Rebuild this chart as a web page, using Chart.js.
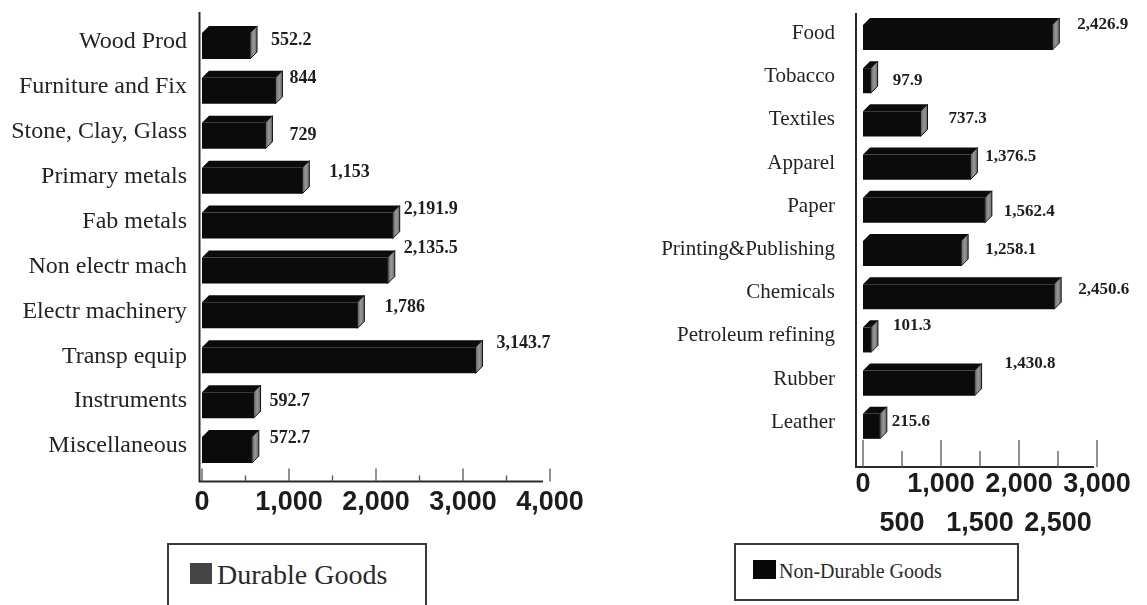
<!DOCTYPE html>
<html>
<head>
<meta charset="utf-8">
<script src="https://cdn.jsdelivr.net/npm/chart.js@4.4.1/dist/chart.umd.min.js"></script>
<style>
  html, body { margin: 0; padding: 0; background: #fff; }
  body { width: 1147px; height: 605px; position: relative; overflow: hidden; }
  canvas { position: absolute; top: 0; }
  #durableChart { left: 0; }
  #nonDurableChart { left: 620px; }
  .legend {
    position: absolute; box-sizing: border-box; border: 2px solid #3a3a3a;
    font-family: 'Liberation Serif', 'Times New Roman', serif; color: #2a2a2a;
  }
  .legend .swatch { position: absolute; }
  .legend .text { position: absolute; white-space: nowrap; }
  #durableLegend { left: 167px; top: 543px; width: 260px; height: 90px; font-size: 28px; line-height: 28px; }
  #durableLegend .swatch { left: 21px; top: 18px; width: 22px; height: 21px; background: #454545; }
  #durableLegend .text { left: 48px; top: 16px; }
  #nonDurableLegend { left: 734px; top: 543px; width: 285px; height: 58px; font-size: 20px; line-height: 20px; }
  #nonDurableLegend .swatch { left: 17px; top: 15px; width: 23px; height: 19px; background: #080808; }
  #nonDurableLegend .text { left: 43px; top: 16px; }
</style>
</head>
<body>
<canvas id="durableChart" width="600" height="540"></canvas>
<canvas id="nonDurableChart" width="527" height="540"></canvas>
<div class="legend" id="durableLegend"><span class="swatch"></span><span class="text"></span></div>
<div class="legend" id="nonDurableLegend"><span class="swatch"></span><span class="text"></span></div>

<script>
// ---- Durable goods ----
const durableCategories = [
  'Wood Prod', 'Furniture and Fix', 'Stone, Clay, Glass', 'Primary metals', 'Fab metals',
  'Non electr mach', 'Electr machinery', 'Transp equip', 'Instruments', 'Miscellaneous'
];
const durableValues = [552.2, 844, 729, 1153, 2191.9, 2135.5, 1786, 3143.7, 592.7, 572.7];
const durableTickLabels = ['0', '1,000', '2,000', '3,000', '4,000'];

// ---- Non-durable goods ----
const nonDurableCategories = [
  'Food', 'Tobacco', 'Textiles', 'Apparel', 'Paper',
  'Printing&Publishing', 'Chemicals', 'Petroleum refining', 'Rubber', 'Leather'
];
const nonDurableValues = [2426.9, 97.9, 737.3, 1376.5, 1562.4, 1258.1, 2450.6, 101.3, 1430.8, 215.6];
const nonDurableTickLabelsUpper = ['0', '1,000', '2,000', '3,000'];   // whole thousands
const nonDurableTickLabelsLower = ['500', '1,500', '2,500'];          // half thousands, second row

// Small per-bar nudges [dx, dy] for the value labels, in pixels
const durableLabelNudge = [[14, -2], [7, -9], [17, 3], [20, -5], [4, -13], [9, -19], [20, -5], [14, -13], [9, 0], [11, -8]];
const nonDurableLabelNudge = [[18, -9], [15, 3], [21, -2], [8, -7], [12, 5], [17, 0], [17, -4], [15, -11], [23, -16], [5, -1]];

const SERIF = "'Liberation Serif', 'Times New Roman', serif";
const SANS = "'Liberation Sans', Arial, sans-serif";
const DEPTH = 7;

const fmtValue = v => v.toLocaleString('en-US', { maximumFractionDigits: 1 });

// Extrudes each horizontal bar into a box: black top face, grey end face
const bars3d = {
  id: 'bars3d',
  afterDatasetsDraw(chart, args, o) {
    const ctx = chart.ctx;
    const d = o.depth;
    chart.getDatasetMeta(0).data.forEach(el => {
      const { x, y, base, height } = el.getProps(['x', 'y', 'base', 'height'], true);
      const top = y - height / 2, bottom = y + height / 2;
      ctx.save();
      // top face
      ctx.fillStyle = o.topColor;
      ctx.beginPath();
      ctx.moveTo(base, top);
      ctx.lineTo(base + d, top - d);
      ctx.lineTo(x + d, top - d);
      ctx.lineTo(x, top);
      ctx.closePath();
      ctx.fill();
      // end face
      const g = ctx.createLinearGradient(x, 0, x + d, 0);
      g.addColorStop(0, '#5e5e5e');
      g.addColorStop(0.5, '#9a9a9a');
      g.addColorStop(1, '#6a6a6a');
      ctx.fillStyle = g;
      ctx.beginPath();
      ctx.moveTo(x, top);
      ctx.lineTo(x + d, top - d);
      ctx.lineTo(x + d, bottom - d);
      ctx.lineTo(x, bottom);
      ctx.closePath();
      ctx.fill();
      ctx.strokeStyle = '#111';
      ctx.lineWidth = 1;
      ctx.stroke();
      ctx.restore();
    });
  }
};

// Value printed beside every bar
const valueLabels = {
  id: 'valueLabels',
  afterDatasetsDraw(chart, args, o) {
    const ctx = chart.ctx;
    const data = chart.data.datasets[0].data;
    ctx.save();
    ctx.font = o.font;
    ctx.fillStyle = o.color;
    ctx.textAlign = 'left';
    ctx.textBaseline = 'middle';
    chart.getDatasetMeta(0).data.forEach((el, i) => {
      const n = o.nudge[i] || [12, 0];
      ctx.fillText(fmtValue(data[i]), el.x + o.depth + n[0], el.y - o.depth / 2 + n[1]);
    });
    ctx.restore();
  }
};

// Axis lines set slightly apart from the plot, with ticks pointing up into it
const axisFrame = {
  id: 'axisFrame',
  beforeDatasetsDraw(chart, args, o) {
    const { ctx, chartArea: a } = chart;
    const xs = chart.scales.x;
    const ax = a.left - o.gapX;
    const ay = a.bottom + o.gapY;
    ctx.save();
    ctx.strokeStyle = o.color;
    ctx.lineWidth = 2;
    ctx.beginPath();
    ctx.moveTo(ax, a.top - o.rise);
    ctx.lineTo(ax, ay);
    ctx.lineTo(a.right - o.trim, ay);
    ctx.stroke();
    ctx.lineWidth = 1.3;
    ctx.strokeStyle = '#555';
    xs.ticks.forEach(t => {
      const px = xs.getPixelForValue(t.value);
      const len = t.value % 1000 === 0 ? o.major : o.minor;
      ctx.beginPath();
      ctx.moveTo(px, ay);
      ctx.lineTo(px, ay - len);
      ctx.stroke();
    });
    ctx.restore();
  }
};

function makeChart(id, cfg) {
  return new Chart(document.getElementById(id), {
    type: 'bar',
    data: {
      labels: cfg.categories,
      datasets: [{
        label: cfg.label,
        data: cfg.values,
        backgroundColor: '#0b0b0b',
        borderWidth: 0,
        categoryPercentage: 1,
        barPercentage: 0.58
      }]
    },
    options: {
      indexAxis: 'y',
      responsive: false,
      animation: false,
      devicePixelRatio: 1,
      layout: { padding: { left: 0, top: cfg.padTop, right: cfg.padRight, bottom: 0 } },
      scales: {
        x: {
          type: 'linear', min: 0, max: cfg.max,
          border: { display: false },
          grid: { display: false, drawTicks: false },
          ticks: {
            stepSize: 500, autoSkip: false, maxRotation: 0, padding: cfg.tickPad,
            color: '#1c1c1c',
            font: { family: SANS, size: 27, weight: 'bold', lineHeight: cfg.tickLineHeight },
            callback: cfg.tickCallback
          },
          afterFit(s) { s.height = cfg.xHeight; s.paddingLeft = 0; s.paddingRight = 0; }
        },
        y: {
          border: { display: false },
          grid: { display: false, drawTicks: false },
          ticks: {
            padding: cfg.labelPad, color: '#232323', labelOffset: cfg.labelOffset,
            font: { family: SERIF, size: cfg.catSize }
          },
          afterFit(s) { s.width = cfg.yWidth; s.paddingTop = 0; s.paddingBottom = 0; }
        }
      },
      plugins: {
        legend: { display: false },
        tooltip: { enabled: false },
        axisFrame: cfg.frame,
        bars3d: { depth: DEPTH, topColor: '#0b0b0b' },
        valueLabels: { depth: DEPTH, font: cfg.valueFont, color: '#1e1e1e', nudge: cfg.nudge }
      }
    },
    plugins: [axisFrame, bars3d, valueLabels]
  });
}

const durableChart = makeChart('durableChart', {
  label: 'Durable Goods',
  categories: durableCategories,
  values: durableValues,
  max: 4000,
  padTop: 23.5, padRight: 50, yWidth: 202, xHeight: 67.5,
  tickPad: 14, tickLineHeight: 1.2,
  tickCallback: v => (v % 1000 === 0 ? durableTickLabels[v / 1000] : ''),
  labelPad: 15, labelOffset: -4, catSize: 24,
  valueFont: "bold 18px " + SERIF,
  nudge: durableLabelNudge,
  frame: { gapX: 2.5, gapY: 9, rise: 11.5, trim: 7, major: 13, minor: 6, color: '#2a2a2a' }
});

const nonDurableChart = makeChart('nonDurableChart', {
  label: 'Non-Durable Goods',
  categories: nonDurableCategories,
  values: nonDurableValues,
  max: 3000,
  padTop: 15.9, padRight: 50, yWidth: 243, xHeight: 92.1,
  tickPad: 16.5, tickLineHeight: 1.456,
  tickCallback: v => (v % 1000 === 0
    ? nonDurableTickLabelsUpper[v / 1000]
    : ['', nonDurableTickLabelsLower[(v - 500) / 1000]]),
  labelPad: 28, labelOffset: -4, catSize: 21,
  valueFont: "bold 17px " + SERIF,
  nudge: nonDurableLabelNudge,
  frame: { gapX: 7, gapY: 19, rise: 3, trim: 3, major: 27, minor: 16, color: '#2a2a2a' }
});

// Legend boxes take their text from the datasets
document.querySelector('#durableLegend .text').textContent = durableChart.data.datasets[0].label;
document.querySelector('#nonDurableLegend .text').textContent = nonDurableChart.data.datasets[0].label;
</script>
</body>
</html>
